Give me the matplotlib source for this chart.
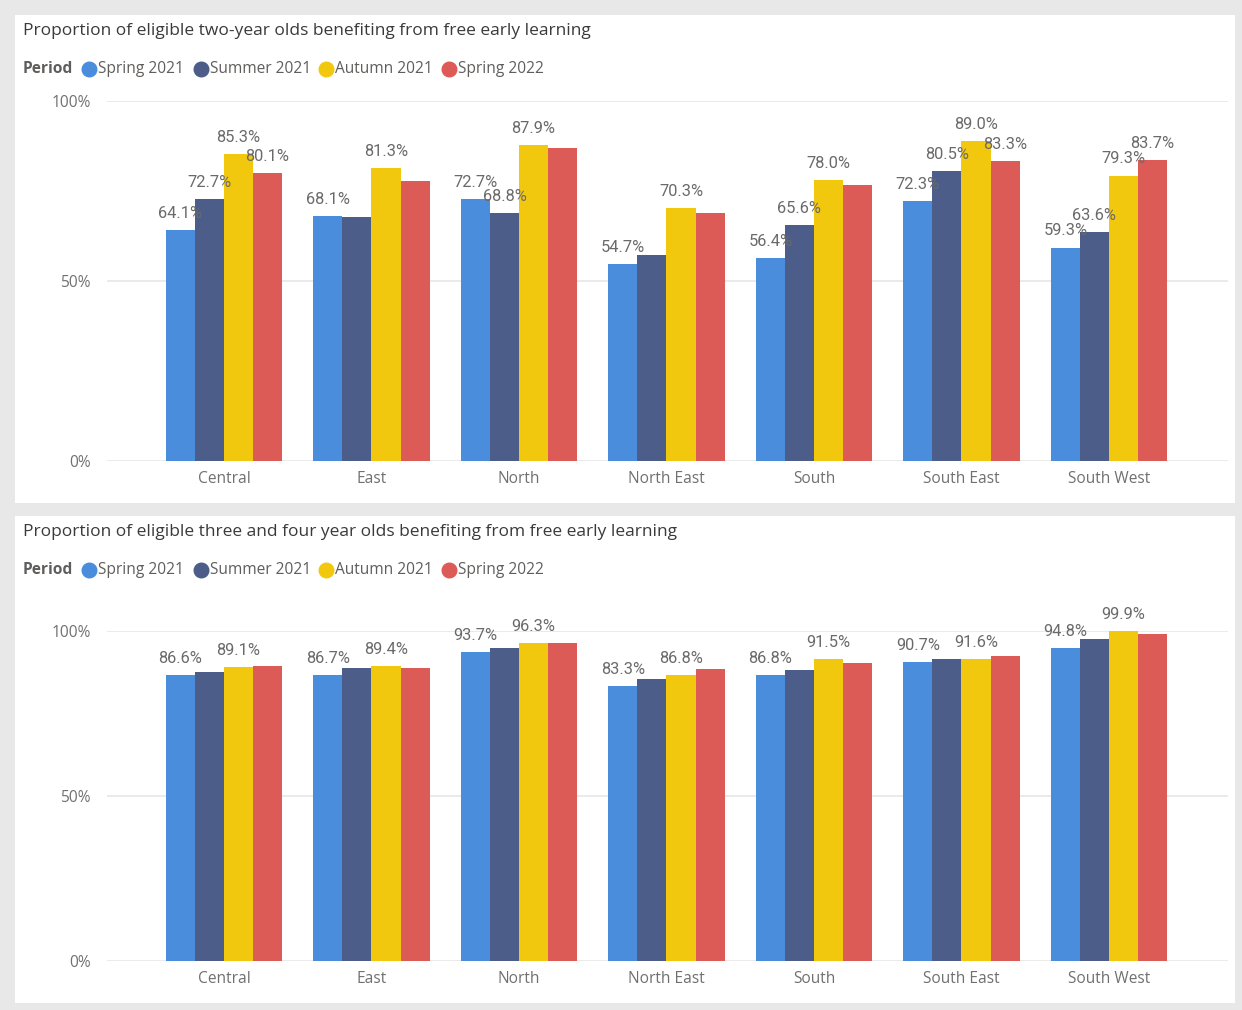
import numpy as np
import matplotlib.pyplot as plt
from matplotlib.patches import Rectangle

regions = ['Central', 'East', 'North', 'North East', 'South', 'South East', 'South West']
periods = ['Spring 2021', 'Summer 2021', 'Autumn 2021', 'Spring 2022']
colors = ['#4A8DDC', '#4C5D8A', '#F2C80F', '#DD5B57']

# two-year olds (%)
two_spring21 = [64.1, 68.1, 72.7, 54.7, 56.4, 72.3, 59.3]
two_summer21 = [72.7, 67.8, 68.8, 57.2, 65.6, 80.5, 63.6]
two_autumn21 = [85.3, 81.3, 87.9, 70.3, 78.0, 89.0, 79.3]
two_spring22 = [80.1, 77.8, 86.9, 69.0, 76.7, 83.3, 83.7]
# which data labels Power BI shows (others hidden by overlap)
two_shown = [
    [1, 1, 1, 1, 1, 1, 1],
    [1, 0, 1, 0, 1, 1, 1],
    [1, 1, 1, 1, 1, 1, 1],
    [1, 0, 0, 0, 0, 1, 1],
]

# three and four year olds (%)
tf_spring21 = [86.6, 86.7, 93.7, 83.3, 86.8, 90.7, 94.8]
tf_summer21 = [87.5, 88.8, 94.8, 85.4, 88.1, 91.6, 97.6]
tf_autumn21 = [89.1, 89.4, 96.3, 86.8, 91.5, 91.6, 99.9]
tf_spring22 = [89.3, 88.7, 96.5, 88.5, 90.4, 92.4, 99.2]
tf_shown = [
    [1, 1, 1, 1, 1, 1, 1],
    [0, 0, 0, 0, 0, 0, 0],
    [1, 1, 1, 1, 1, 1, 1],
    [0, 0, 0, 0, 0, 0, 0],
]

W, H = 1242, 1010
fig = plt.figure(figsize=(W / 100, H / 100), dpi=100, facecolor='#E8E8E8')

# white cards (behind the axes)
for y0, h in [(15, 488), (516, 487)]:
    fig.patches.append(Rectangle((15 / W, 1 - (y0 + h) / H), 1220 / W, h / H,
                                 transform=fig.transFigure, facecolor='white',
                                 edgecolor='none', zorder=-5))

title_col = '#3B3A39'
text_col = '#605E5C'
tick_col = '#707070'
label_font = 'Roboto'
main_font = 'Open Sans'


def draw_panel(top, title, axes_top, axes_bottom, series, shown):
    fig.text(23 / W, 1 - (top + 16) / H, title, fontsize=12.5, color=title_col,
             family=main_font, va='center', ha='left')
    ly = 1 - (top + 54) / H
    fig.text(23 / W, ly, 'Period', fontsize=11.2, color=text_col, family=main_font,
             weight='bold', va='center', ha='left')
    lx = [89, 201, 326, 449]
    for x, c, p in zip(lx, colors, periods):
        fig.lines.append(plt.Line2D([x / W], [ly], marker='o', markersize=10.5, color=c,
                                    transform=fig.transFigure, linestyle='none'))
        fig.text((x + 9) / W, ly, p, fontsize=11.2, color=text_col, family=main_font,
                 va='center', ha='left')

    ax = fig.add_axes([107 / W, 1 - axes_bottom / H, 1121 / W, (axes_bottom - axes_top) / H])
    ax.set_facecolor('none')
    x = np.arange(len(regions))
    bw = 0.197
    for i, vals in enumerate(series):
        xs = x + (i - 1.5) * bw
        ax.bar(xs, vals, width=bw, color=colors[i], edgecolor='none', zorder=3)
        for xi, v, s in zip(xs, vals, shown[i]):
            if s:
                ax.annotate(f'{v:.1f}%', (xi, v), xytext=(0, 6.5), textcoords='offset points',
                            ha='center', va='bottom', fontsize=11.8, color='#6A6A6A',
                            family=label_font, clip_on=False, zorder=5)
    ax.set_xlim(-0.793, 6.807)
    ax.set_ylim(0, 100)
    ax.set_yticks([0, 50, 100])
    ax.set_yticklabels(['0%', '50%', '100%'])
    ax.set_xticks(x)
    ax.set_xticklabels(regions)
    ax.grid(axis='y', color='#E6E6E6', linewidth=1.2, zorder=0)
    for s in ax.spines.values():
        s.set_visible(False)
    ax.tick_params(axis='both', length=0, labelsize=11.2, labelcolor=tick_col)
    ax.tick_params(axis='y', pad=11.5)
    ax.tick_params(axis='x', pad=7)
    for t in ax.get_xticklabels() + ax.get_yticklabels():
        t.set_family(main_font)
    return ax


draw_panel(15, 'Proportion of eligible two-year olds benefiting from free early learning',
           101, 461, [two_spring21, two_summer21, two_autumn21, two_spring22], two_shown)
draw_panel(516, 'Proportion of eligible three and four year olds benefiting from free early learning',
           631, 961, [tf_spring21, tf_summer21, tf_autumn21, tf_spring22], tf_shown)

fig.savefig('out.png', dpi=100, facecolor=fig.get_facecolor())
